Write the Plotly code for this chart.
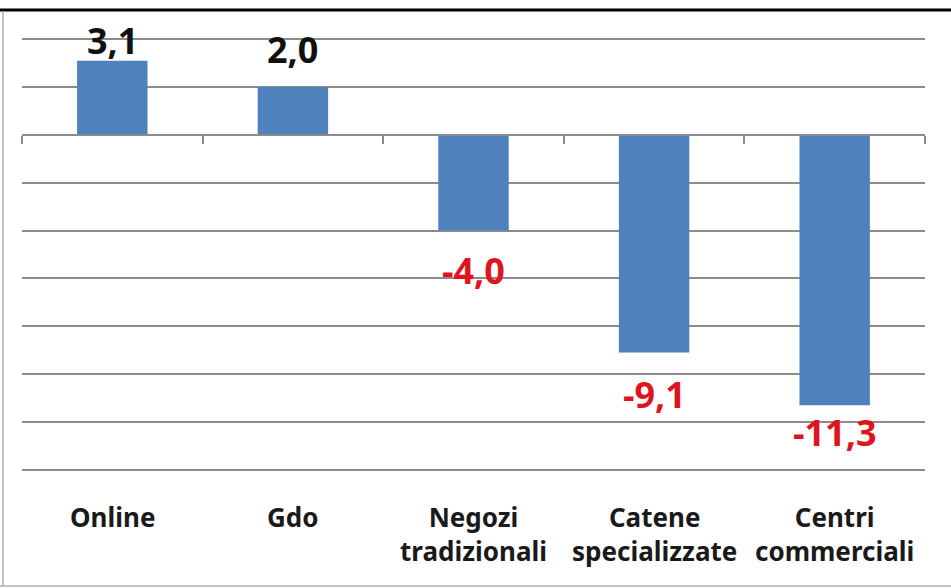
import plotly.graph_objects as go

# ---- data ----
categories = ["Online", "Gdo", "Negozi<br>tradizionali", "Catene<br>specializzate", "Centri<br>commerciali"]
values = [3.1, 2.0, -4.0, -9.1, -11.3]
value_labels = ["3,1", "2,0", "-4,0", "-9,1", "-11,3"]

# ---- styling ----
label_shift_px = [20, 38, -40, -42, -27]   # pixel offset of each value label from bar end
label_colors = ["#111111" if v > 0 else "#E0141E" for v in values]
bar_color = "#4F81BD"
grid_color = "#8C8C8C"
font_family = "Noto Sans"

W, H = 951, 588
ML, MR, MT, MB = 22, 26, 38, 117
y_min, y_max = -14, 4
pad = 0.05

x_idx = list(range(len(categories)))

fig = go.Figure()
fig.add_trace(go.Bar(
    x=x_idx, y=values,
    marker=dict(color=bar_color, line=dict(width=0)),
    width=0.39,
    hoverinfo="skip",
))

annotations = []
for i, (v, lab, sh, col) in enumerate(zip(values, value_labels, label_shift_px, label_colors)):
    annotations.append(dict(
        x=i, y=v, xref="x", yref="y", text=f"<b>{lab}</b>", showarrow=False,
        yanchor="middle", yshift=sh,
        font=dict(family=font_family, size=36, color=col),
    ))
for i, cat in enumerate(categories):
    annotations.append(dict(
        x=i, y=0, xref="x", yref="paper", text=f"<b>{cat}</b>", showarrow=False,
        yanchor="top", yshift=-26,
        font=dict(family=font_family, size=26, color="#1A1A1A"),
    ))

# frame lines around the chart (paper coords derived from margins)
plot_h = H - MT - MB
plot_w = W - ML - MR
def py(px):
    return (H - MB - px) / plot_h
def px_(xp):
    return (xp - ML) / plot_w

shapes = [
    dict(type="line", xref="paper", yref="paper", x0=px_(0), x1=px_(W), y0=py(10), y1=py(10),
         line=dict(color="#000000", width=3)),
    dict(type="line", xref="paper", yref="paper", x0=px_(3), x1=px_(3), y0=py(11), y1=py(586),
         line=dict(color="#B0B0B0", width=1.5)),
    dict(type="line", xref="paper", yref="paper", x0=px_(0), x1=px_(W), y0=py(586), y1=py(586),
         line=dict(color="#B0B0B0", width=1.5)),
]

r0, r1 = y_min - pad, y_max + pad
fig.update_layout(
    width=W, height=H,
    margin=dict(l=ML, r=MR, t=MT, b=MB),
    paper_bgcolor="white", plot_bgcolor="white",
    showlegend=False,
    annotations=annotations,
    shapes=shapes,
    font=dict(family=font_family),
    xaxis=dict(
        range=[-0.5, len(categories) - 0.5],
        anchor="free", position=(0 - r0) / (r1 - r0),
        tickmode="array", tickvals=[i - 0.5 for i in range(len(categories) + 1)],
        showticklabels=False, ticks="outside", ticklen=8, tickwidth=1.5, tickcolor=grid_color,
        showline=True, linecolor=grid_color, linewidth=1.5,
        showgrid=False, zeroline=False, fixedrange=True,
    ),
    yaxis=dict(
        range=[r0, r1], dtick=2, tick0=0,
        showticklabels=False, ticks="",
        showgrid=True, gridcolor=grid_color, gridwidth=1.5,
        zeroline=False, showline=False, fixedrange=True,
    ),
)

fig.write_html("out.html", config={"displayModeBar": False},
               post_script="document.body.style.margin='0';document.body.style.padding='0';")
